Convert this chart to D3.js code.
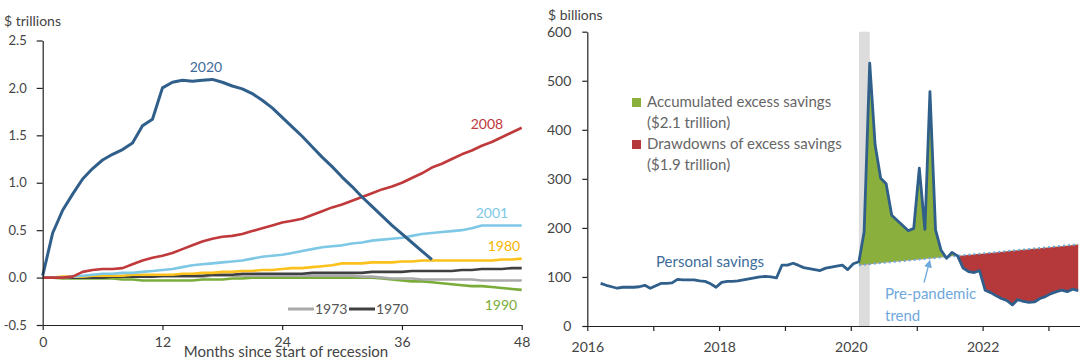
<!DOCTYPE html>
<html lang="en">
<head>
  <meta charset="UTF-8">
  <title>Excess savings</title>
  <style>
    body { margin: 0; background: #fff; }
    svg { display: block; font-family: Lato, "Open Sans", sans-serif; }
    .axis path, .axis line { stroke: #222; stroke-width: 1.2; }
    .axis text { fill: #444; font-size: 14px; font-family: Lato, sans-serif; }
  </style>
</head>
<body>
<div class="chart"></div>
<script src="https://cdn.jsdelivr.net/npm/d3@7/dist/d3.min.js"></script>
<script>
  // left panel: cumulative savings, months since start of recession
  const monthTicks = [0, 12, 24, 36, 48];
  const yTicksLeft = [-0.5, 0, 0.5, 1.0, 1.5, 2.0, 2.5];

  const s2020 = [0.02, 0.47, 0.71, 0.88, 1.04, 1.15, 1.24, 1.30, 1.35, 1.42, 1.60, 1.67, 2.00, 2.06, 2.08, 2.07, 2.08, 2.09, 2.06, 2.02,
    1.99, 1.94, 1.87, 1.79, 1.69, 1.59, 1.49, 1.38, 1.27, 1.17, 1.06, 0.96, 0.85, 0.75, 0.65, 0.55, 0.46, 0.37, 0.28, 0.19];
  const s2008 = [0, 0, 0, 0.01, 0.06, 0.08, 0.09, 0.09, 0.10, 0.14, 0.18, 0.21, 0.23, 0.26, 0.30, 0.34, 0.38, 0.41, 0.43, 0.44,
    0.46, 0.49, 0.52, 0.55, 0.58, 0.60, 0.62, 0.66, 0.70, 0.74, 0.77, 0.81, 0.85, 0.89, 0.93, 0.96, 1.00, 1.05, 1.10, 1.16,
    1.20, 1.25, 1.30, 1.34, 1.39, 1.43, 1.48, 1.53, 1.58];
  const s2001 = [0, 0, 0, 0.01, 0.02, 0.03, 0.04, 0.04, 0.05, 0.05, 0.06, 0.07, 0.08, 0.09, 0.11, 0.13, 0.14, 0.15, 0.16, 0.17,
    0.18, 0.20, 0.22, 0.23, 0.24, 0.26, 0.28, 0.30, 0.32, 0.33, 0.34, 0.36, 0.37, 0.39, 0.40, 0.41, 0.42, 0.44, 0.46, 0.47,
    0.48, 0.49, 0.50, 0.52, 0.55, 0.55, 0.55, 0.55, 0.55];
  const s1980 = [0, 0, 0.01, 0.01, 0.01, 0.02, 0.02, 0.02, 0.02, 0.03, 0.03, 0.03, 0.03, 0.03, 0.04, 0.04, 0.05, 0.05, 0.06, 0.06,
    0.07, 0.07, 0.08, 0.08, 0.09, 0.10, 0.10, 0.11, 0.12, 0.13, 0.15, 0.15, 0.15, 0.16, 0.16, 0.16, 0.17, 0.17, 0.18, 0.18,
    0.18, 0.18, 0.18, 0.18, 0.18, 0.18, 0.19, 0.19, 0.20];
  const s1970 = [0, 0, 0, 0, 0, 0, 0, 0.01, 0.01, 0.01, 0.01, 0.01, 0.02, 0.02, 0.02, 0.02, 0.02, 0.03, 0.03, 0.03,
    0.04, 0.04, 0.04, 0.04, 0.04, 0.04, 0.04, 0.05, 0.05, 0.05, 0.05, 0.05, 0.05, 0.06, 0.06, 0.06, 0.06, 0.07, 0.07, 0.07,
    0.07, 0.07, 0.08, 0.08, 0.09, 0.09, 0.09, 0.10, 0.10];
  const s1973 = [0, 0, 0, 0, 0, 0, 0.01, 0.01, 0.01, 0.01, 0.01, 0.01, 0.01, 0.01, 0.01, 0.01, 0.01, 0.02, 0.02, 0.02,
    0.02, 0.02, 0.02, 0.02, 0.02, 0.02, 0.02, 0.02, 0.02, 0.02, 0.02, 0.02, 0.01, 0.01, 0, -0.01, -0.01, -0.01, -0.02, -0.02,
    -0.02, -0.02, -0.02, -0.02, -0.03, -0.03, -0.03, -0.03, -0.03];
  const s1990 = [0, 0, -0.01, -0.01, -0.01, -0.01, -0.01, -0.01, -0.02, -0.02, -0.03, -0.03, -0.03, -0.03, -0.03, -0.03, -0.02, -0.02, -0.02, -0.01,
    -0.01, 0, 0, 0, 0, 0, 0, 0, 0, 0, 0, 0, 0, 0, -0.01, -0.02, -0.03, -0.04, -0.04, -0.05,
    -0.06, -0.07, -0.08, -0.09, -0.09, -0.10, -0.11, -0.12, -0.13];

  // right panel: personal savings, monthly from March 2016, $ billions
  const savingsStart = "2016-03";
  const savings = [87, 83, 80, 77, 79, 79, 79, 80, 83, 77,
    82, 87, 87, 88, 95, 94, 94, 94, 92, 91, 86, 79,
    89, 91, 91, 92, 94, 96, 98, 100, 101, 100, 98, 124,
    124, 128, 124, 119, 117, 115, 113, 118, 120, 122, 124, 115,
    127, 131, 192, 536, 369, 301, 290, 226, 215, 205, 194, 199,
    322, 197, 478, 196, 155, 138, 150, 143, 118, 111, 109, 113,
    73, 68, 62, 56, 52, 43, 54, 50, 48, 49, 56, 60,
    66, 70, 73, 70, 75, 72];
  const trendDates = ["2020-02-15", "2023-06-15"];
  const trendValues = [124, 166.5];
  const recession = ["2020-02-15", "2020-04-15"];
  const yearTicks = [2016, 2017, 2018, 2019, 2020, 2021, 2022, 2023];
  const yTicksRight = [0, 100, 200, 300, 400, 500, 600];

  const width = 1080, height = 363;
  const svg = d3.select(".chart").append("svg").attr("width", width).attr("height", height);

  /**
   * Left panel
   */
  const xL = d3.scaleLinear().domain([0, 48]).range([42.7, 521.7]);
  const yL = d3.scaleLinear().domain([-0.5, 2.5]).range([325, 40.5]);

  const leftSeries = [
    {name: "1990", values: s1990, color: "#7aac3a", width: 2.6},
    {name: "1973", values: s1973, color: "#a9a9a9", width: 2.6},
    {name: "1970", values: s1970, color: "#404040", width: 2.6},
    {name: "1980", values: s1980, color: "#fcc21b", width: 2.6},
    {name: "2001", values: s2001, color: "#7ec8e6", width: 2.6},
    {name: "2008", values: s2008, color: "#c0393b", width: 2.6},
    {name: "2020", values: s2020, color: "#2f5f8a", width: 3}
  ];

  const lineL = d3.line().x((d, i) => xL(i)).y(d => yL(d));
  leftSeries.forEach(s => {
    svg.append("path")
      .datum(s.values)
      .attr("d", lineL)
      .attr("fill", "none")
      .attr("stroke", s.color)
      .attr("stroke-width", s.width)
      .attr("stroke-linejoin", "round");
  });

  svg.append("g").attr("class", "axis")
    .attr("transform", `translate(0, ${yL(-0.5)})`)
    .call(d3.axisBottom(xL).tickValues(monthTicks).tickSize(5).tickPadding(7).tickSizeOuter(0));
  svg.append("g").attr("class", "axis")
    .attr("transform", `translate(${xL(0)}, 0)`)
    .call(d3.axisLeft(yL).tickValues(yTicksLeft).tickFormat(d => d.toFixed(1)).tickSize(6).tickPadding(10).tickSizeOuter(0))
    .selectAll("text").style("font-size", "13px");

  svg.append("text").text("$ trillions").attr("x", 4).attr("y", 26)
    .attr("fill", "#444").style("font-size", "14px");
  svg.append("text").text("Months since start of recession")
    .attr("x", 286).attr("y", 357).attr("text-anchor", "middle")
    .attr("fill", "#444").style("font-size", "15px");

  // series labels
  const leftLabels = [
    {text: "2020", x: 206, y: 72, color: "#3e6c9a"},
    {text: "2008", x: 487, y: 129, color: "#c0393b"},
    {text: "2001", x: 492, y: 218, color: "#7ec8e6"},
    {text: "1980", x: 504, y: 251, color: "#f7b500"},
    {text: "1990", x: 501, y: 310, color: "#7aac3a"}
  ];
  svg.selectAll(".lbl-left").data(leftLabels).enter().append("text")
    .attr("x", d => d.x).attr("y", d => d.y).attr("text-anchor", "middle")
    .attr("fill", d => d.color).style("font-size", "14px")
    .text(d => d.text);

  // 1973 / 1970 legend
  const legLeft = [{name: "1973", color: "#a9a9a9", x: 288}, {name: "1970", color: "#404040", x: 349}];
  legLeft.forEach(l => {
    svg.append("line").attr("x1", l.x).attr("x2", l.x + 26).attr("y1", 309).attr("y2", 309)
      .attr("stroke", l.color).attr("stroke-width", 3);
    svg.append("text").text(l.name).attr("x", l.x + 27).attr("y", 314)
      .attr("fill", "#555").style("font-size", "14px");
  });

  /**
   * Right panel
   */
  const parseM = d3.timeParse("%Y-%m");
  const parseD = d3.timeParse("%Y-%m-%d");
  const start = parseM(savingsStart);
  const savingsData = savings.map((v, i) => ({date: d3.timeDay.offset(d3.timeMonth.offset(start, i), 14), value: v}));

  const xR = d3.scaleTime().domain([new Date(2016, 0, 1), new Date(2023, 5, 25)]).range([587.3, 1080]);
  const yR = d3.scaleLinear().domain([0, 600]).range([326, 31.7]);

  const t0 = parseD(trendDates[0]), t1 = parseD(trendDates[1]);
  const trend = d3.scaleLinear().domain([t0, t1]).range(trendValues);

  // recession band
  svg.append("rect")
    .attr("x", xR(parseD(recession[0])))
    .attr("y", yR(600))
    .attr("width", xR(parseD(recession[1])) - xR(parseD(recession[0])))
    .attr("height", yR(0) - yR(600))
    .attr("fill", "#dcdcdc");

  // clip regions above / below the trend
  const defs = svg.append("defs");
  const xa = xR(t0) - 2, xb = xR(t1) + 4;
  defs.append("clipPath").attr("id", "above").append("path")
    .attr("d", `M${xa},0L${xb},0L${xb},${yR(trend(t1))}L${xa},${yR(trend(t0))}Z`);
  defs.append("clipPath").attr("id", "below").append("path")
    .attr("d", `M${xa},${yR(trend(t0))}L${xb},${yR(trend(t1))}L${xb},${height}L${xa},${height}Z`);

  const post = savingsData.filter(d => d.date >= t0);
  const gap = d3.area()
    .x(d => xR(d.date))
    .y0(d => yR(trend(d.date)))
    .y1(d => yR(d.value));

  svg.append("path").datum(post).attr("d", gap).attr("fill", "#8aaf3c").attr("clip-path", "url(#above)");
  svg.append("path").datum(post).attr("d", gap).attr("fill", "#b5393a").attr("clip-path", "url(#below)");

  // trend line (dotted)
  svg.append("line")
    .attr("x1", xR(t0)).attr("y1", yR(trend(t0)))
    .attr("x2", xR(t1)).attr("y2", yR(trend(t1)))
    .attr("stroke", "#6fa8dc").attr("stroke-width", 2)
    .attr("stroke-dasharray", "2,3");

  // personal savings line
  svg.append("path")
    .datum(savingsData)
    .attr("d", d3.line().x(d => xR(d.date)).y(d => yR(d.value)))
    .attr("fill", "none")
    .attr("stroke", "#2f5f8a")
    .attr("stroke-width", 2.8)
    .attr("stroke-linejoin", "round");

  // axes
  svg.append("g").attr("class", "axis")
    .attr("transform", `translate(0, ${yR(0)})`)
    .call(d3.axisBottom(xR).tickValues(yearTicks.map(y => new Date(y, 0, 1)))
      .tickFormat(d => d.getFullYear() % 2 === 0 ? d.getFullYear() : "")
      .tickSize(5).tickPadding(11).tickSizeOuter(0));
  svg.append("g").attr("class", "axis")
    .attr("transform", `translate(${xR.range()[0]}, 0)`)
    .call(d3.axisLeft(yR).tickValues(yTicksRight).tickSize(5).tickPadding(11).tickSizeOuter(0));

  svg.append("text").text("$ billions").attr("x", 548).attr("y", 20)
    .attr("fill", "#444").style("font-size", "14px");

  // legend
  const legRight = [
    {color: "#8aaf3c", lines: ["Accumulated excess savings", "($2.1 trillion)"], y: 98},
    {color: "#b5393a", lines: ["Drawdowns of excess savings", "($1.9 trillion)"], y: 140}
  ];
  legRight.forEach(l => {
    svg.append("rect").attr("x", 632).attr("y", l.y).attr("width", 9).attr("height", 9).attr("fill", l.color);
    l.lines.forEach((t, j) => {
      svg.append("text").text(t).attr("x", 647).attr("y", l.y + 9 + j * 21)
        .attr("fill", "#666").style("font-size", "15px");
    });
  });

  svg.append("text").text("Personal savings").attr("x", 656).attr("y", 267)
    .attr("fill", "#3e6c9a").style("font-size", "15px");

  // pre-pandemic trend annotation
  defs.append("marker").attr("id", "arrow")
    .attr("viewBox", "0 0 10 10").attr("refX", 5).attr("refY", 5)
    .attr("markerWidth", 6).attr("markerHeight", 6).attr("orient", "auto-start-reverse")
    .append("path").attr("d", "M0,0L10,5L0,10Z").attr("fill", "#6fa8dc");
  const tip = parseD("2021-03-10");
  svg.append("line")
    .attr("x1", xR(tip) - 5).attr("y1", yR(trend(tip)) + 24)
    .attr("x2", xR(tip)).attr("y2", yR(trend(tip)) + 5)
    .attr("stroke", "#6fa8dc").attr("stroke-width", 1.3)
    .attr("marker-end", "url(#arrow)");
  svg.append("text").text("Pre-pandemic").attr("x", 885).attr("y", 299)
    .attr("fill", "#6fa8dc").style("font-size", "15px");
  svg.append("text").text("trend").attr("x", 885).attr("y", 321)
    .attr("fill", "#6fa8dc").style("font-size", "15px");
</script>
</body>
</html>
